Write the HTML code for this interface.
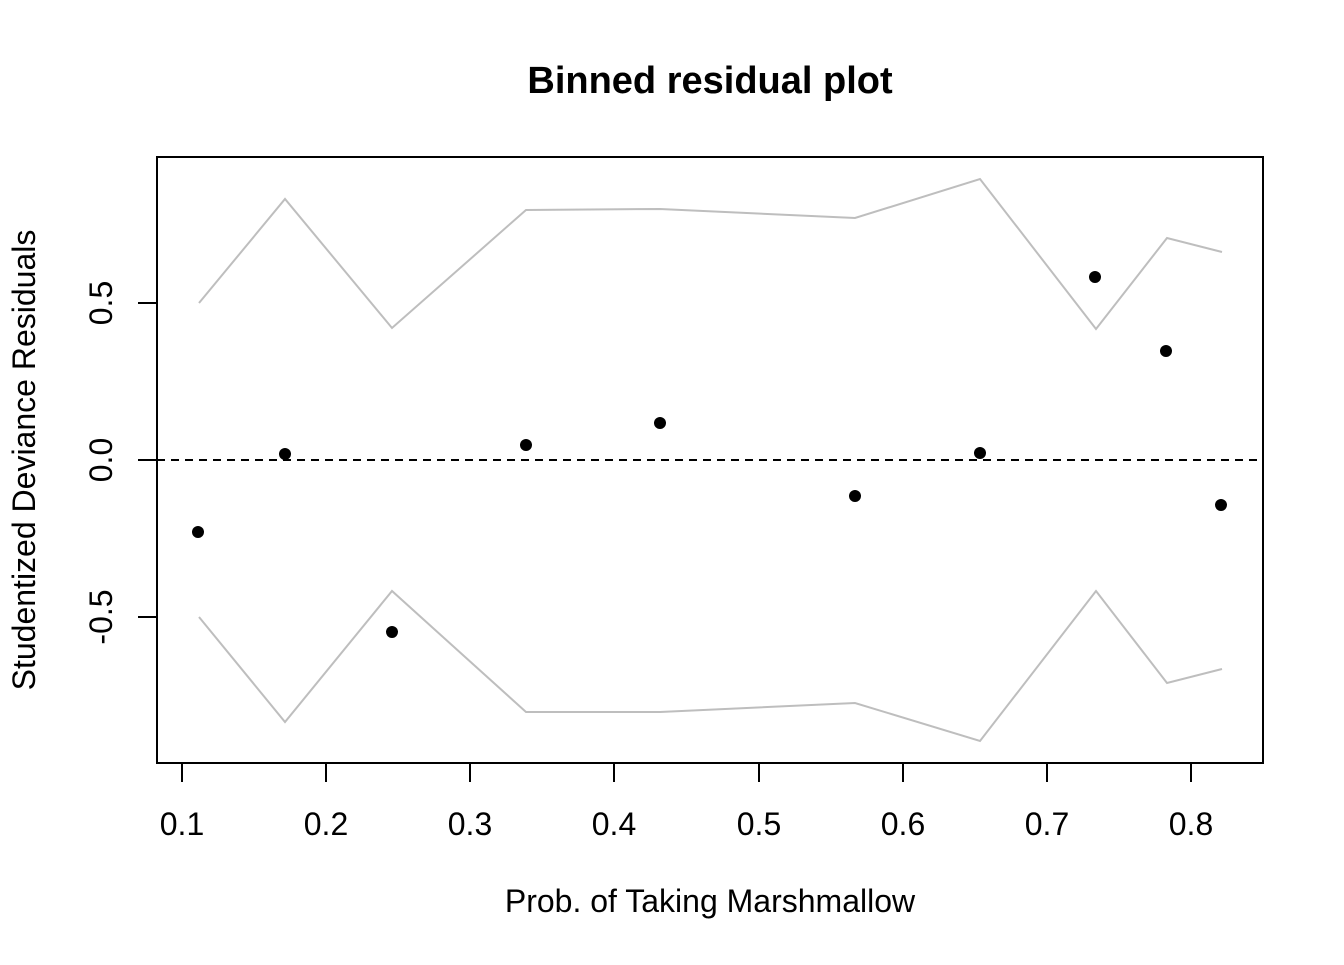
<!DOCTYPE html>
<html><head><style>body{margin:0;background:#fff}</style></head><body>
<svg width="1344" height="960" xmlns="http://www.w3.org/2000/svg" font-family="Liberation Sans, Arial, sans-serif">
<rect width="1344" height="960" fill="#fff"/>
<text x="710" y="93" font-size="38" font-weight="bold" text-anchor="middle">Binned residual plot</text>
<rect x="157" y="157" width="1106" height="606" fill="none" stroke="#000" stroke-width="2"/>
<g stroke="#000" stroke-width="2">
<line x1="182" y1="763" x2="1191" y2="763"/>
<line x1="182" y1="763" x2="182" y2="782"/><line x1="326" y1="763" x2="326" y2="782"/>
<line x1="470" y1="763" x2="470" y2="782"/><line x1="614" y1="763" x2="614" y2="782"/>
<line x1="759" y1="763" x2="759" y2="782"/><line x1="903" y1="763" x2="903" y2="782"/>
<line x1="1047" y1="763" x2="1047" y2="782"/><line x1="1191" y1="763" x2="1191" y2="782"/>
<line x1="157" y1="303" x2="157" y2="617"/>
<line x1="138" y1="303" x2="157" y2="303"/><line x1="138" y1="460" x2="157" y2="460"/><line x1="138" y1="617" x2="157" y2="617"/>
</g>
<g font-size="32" text-anchor="middle">
<text x="182" y="835">0.1</text><text x="326" y="835">0.2</text><text x="470" y="835">0.3</text><text x="614" y="835">0.4</text>
<text x="759" y="835">0.5</text><text x="903" y="835">0.6</text><text x="1047" y="835">0.7</text><text x="1191" y="835">0.8</text>
<text transform="translate(112,303) rotate(-90)">0.5</text>
<text transform="translate(112,460) rotate(-90)">0.0</text>
<text transform="translate(112,617) rotate(-90)">-0.5</text>
<text x="710" y="912">Prob. of Taking Marshmallow</text>
<text transform="translate(35,460) rotate(-90)">Studentized Deviance Residuals</text>
</g>
<line x1="157" y1="460" x2="1263" y2="460" stroke="#000" stroke-width="2" stroke-dasharray="8,6"/>
<g fill="none" stroke="#bebebe" stroke-width="2">
<polyline points="199,303 285,199 392,328 526,210 660,209 855,218 980,179 1096,329 1167,238 1222,252"/>
<polyline points="199,617 285,722 392,591 526,712 660,712 855,703 980,741 1096,591 1167,683 1222,669"/>
</g>
<g fill="#000">
<circle cx="198" cy="532" r="6"/><circle cx="285" cy="454" r="6"/><circle cx="392" cy="632" r="6"/>
<circle cx="526" cy="445" r="6"/><circle cx="660" cy="423" r="6"/><circle cx="855" cy="496" r="6"/>
<circle cx="980" cy="453" r="6"/><circle cx="1095" cy="277" r="6"/><circle cx="1166" cy="351" r="6"/>
<circle cx="1221" cy="505" r="6"/>
</g>
</svg>
</body></html>
